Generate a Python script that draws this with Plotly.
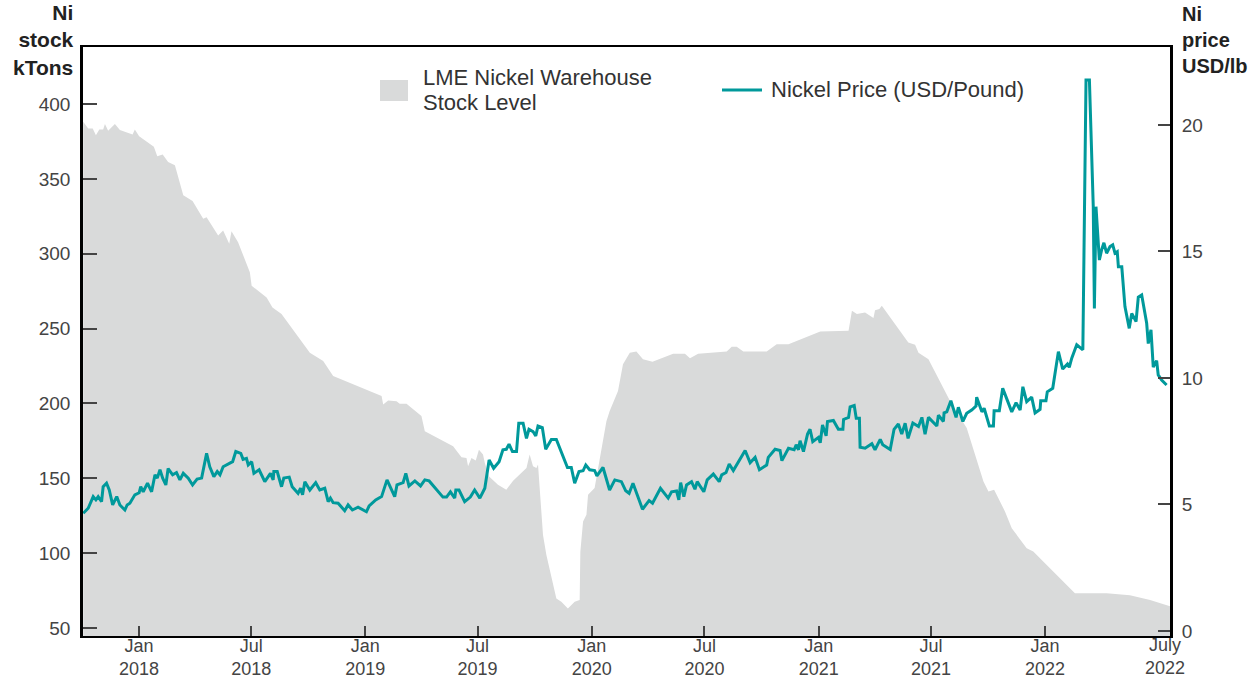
import datetime
import plotly.graph_objects as go

# ---------------- data (decimal-year time stamps) ----------------
price_t = [
    2017.754, 2017.776, 2017.798, 2017.810, 2017.820, 2017.835, 2017.842, 2017.857, 2017.869, 2017.884,
    2017.902, 2017.916, 2017.938, 2017.948, 2017.960, 2017.982, 2018.001, 2018.008, 2018.019, 2018.038,
    2018.056, 2018.071, 2018.081, 2018.093, 2018.105, 2018.119, 2018.129, 2018.149, 2018.166, 2018.181,
    2018.196, 2018.218, 2018.237, 2018.257, 2018.277, 2018.299, 2018.313, 2018.331, 2018.346, 2018.358,
    2018.372, 2018.394, 2018.414, 2018.428, 2018.450, 2018.460, 2018.475, 2018.483, 2018.498, 2018.508,
    2018.531, 2018.556, 2018.581, 2018.593, 2018.596, 2018.611, 2018.630, 2018.640, 2018.664, 2018.677,
    2018.703, 2018.714, 2018.723, 2018.733, 2018.755, 2018.781, 2018.799, 2018.821, 2018.836, 2018.846,
    2018.858, 2018.880, 2018.909, 2018.924, 2018.943, 2018.968, 2019.005, 2019.017, 2019.046, 2019.072,
    2019.096, 2019.130, 2019.140, 2019.167, 2019.179, 2019.193, 2019.219, 2019.244, 2019.263, 2019.282,
    2019.343, 2019.359, 2019.376, 2019.395, 2019.400, 2019.414, 2019.439, 2019.464, 2019.483, 2019.506,
    2019.528, 2019.547, 2019.567, 2019.591, 2019.608, 2019.623, 2019.635, 2019.650, 2019.668, 2019.678,
    2019.697, 2019.712, 2019.723, 2019.741, 2019.753, 2019.763, 2019.782, 2019.797, 2019.822, 2019.844,
    2019.893, 2019.910, 2019.925, 2019.944, 2019.962, 2019.974, 2019.991, 2020.013, 2020.023, 2020.050,
    2020.079, 2020.102, 2020.131, 2020.150, 2020.165, 2020.182, 2020.224, 2020.253, 2020.268, 2020.303,
    2020.337, 2020.352, 2020.374, 2020.384, 2020.392, 2020.406, 2020.418, 2020.440, 2020.455, 2020.465,
    2020.494, 2020.509, 2020.536, 2020.562, 2020.573, 2020.592, 2020.606, 2020.624, 2020.676, 2020.698,
    2020.720, 2020.739, 2020.771, 2020.778, 2020.808, 2020.830, 2020.838, 2020.867, 2020.892, 2020.901,
    2020.911, 2020.918, 2020.933, 2020.951, 2020.962, 2020.974, 2020.999, 2021.007, 2021.017, 2021.033,
    2021.039, 2021.065, 2021.087, 2021.107, 2021.110, 2021.132, 2021.139, 2021.157, 2021.166, 2021.180,
    2021.183, 2021.205, 2021.235, 2021.249, 2021.272, 2021.283, 2021.316, 2021.333, 2021.352, 2021.367,
    2021.382, 2021.395, 2021.416, 2021.441, 2021.456, 2021.470, 2021.485, 2021.522, 2021.529, 2021.551,
    2021.554, 2021.566, 2021.584, 2021.607, 2021.617, 2021.637, 2021.654, 2021.676, 2021.695, 2021.698,
    2021.721, 2021.731, 2021.754, 2021.772, 2021.775, 2021.798, 2021.813, 2021.828, 2021.853, 2021.872,
    2021.890, 2021.902, 2021.919, 2021.941, 2021.956, 2021.978, 2021.981, 2022.004, 2022.010, 2022.034,
    2022.044, 2022.059, 2022.078, 2022.099, 2022.107, 2022.118, 2022.140, 2022.167, 2022.181, 2022.196,
    2022.213, 2022.218, 2022.225, 2022.240, 2022.250, 2022.260, 2022.272, 2022.287, 2022.299, 2022.309,
    2022.319, 2022.324, 2022.339, 2022.353, 2022.372, 2022.383, 2022.402, 2022.412, 2022.427, 2022.449,
    2022.456, 2022.468, 2022.478, 2022.493, 2022.500, 2022.515, 2022.537,
]
price_usd_lb = [
    4.65, 4.85, 5.31, 5.18, 5.31, 5.11, 5.70, 5.84, 5.57, 4.98,
    5.31, 4.98, 4.78, 4.98, 5.05, 5.38, 5.46, 5.70, 5.50, 5.84,
    5.50, 6.17, 6.04, 6.37, 6.04, 5.77, 6.42, 6.17, 6.26, 5.97,
    6.23, 6.04, 5.77, 6.00, 6.04, 7.02, 6.49, 6.10, 6.30, 6.17,
    6.49, 6.58, 6.69, 7.09, 7.02, 6.78, 6.82, 6.56, 6.69, 6.23,
    6.37, 5.90, 6.23, 5.97, 6.30, 6.30, 5.70, 6.04, 6.08, 5.70,
    5.44, 5.64, 5.38, 5.90, 5.57, 5.86, 5.57, 5.64, 5.11, 5.25,
    5.07, 5.05, 4.75, 4.98, 4.78, 4.89, 4.71, 4.94, 5.18, 5.31,
    5.97, 5.31, 5.77, 5.86, 6.23, 5.73, 5.93, 5.73, 5.97, 5.93,
    5.29, 5.29, 5.50, 5.25, 5.57, 5.57, 5.11, 5.29, 5.57, 5.25,
    5.64, 6.76, 6.43, 6.69, 7.16, 7.18, 7.38, 7.09, 7.09, 8.21,
    8.21, 7.61, 7.97, 7.88, 7.71, 8.10, 8.04, 7.18, 7.57, 7.57,
    6.46, 6.46, 5.84, 6.30, 6.33, 6.56, 6.37, 6.34, 6.13, 6.46,
    5.57, 5.97, 5.90, 5.54, 5.44, 5.84, 4.81, 5.15, 5.05, 5.64,
    5.25, 5.50, 5.53, 5.18, 5.86, 5.31, 5.77, 5.90, 5.60, 5.90,
    5.50, 5.97, 6.20, 5.90, 6.17, 6.26, 6.60, 6.34, 7.13, 6.65,
    6.86, 6.37, 6.56, 6.86, 7.18, 7.13, 6.73, 7.22, 7.16, 7.36,
    7.16, 7.52, 7.09, 7.78, 7.97, 7.48, 7.65, 7.44, 8.14, 7.71,
    8.28, 8.32, 7.97, 7.97, 8.36, 8.44, 8.86, 8.91, 8.41, 8.41,
    7.26, 7.22, 7.40, 7.16, 7.57, 7.36, 7.17, 7.97, 8.18, 7.78,
    8.21, 7.61, 8.22, 8.08, 8.44, 7.78, 8.44, 8.10, 8.53, 8.28,
    8.62, 8.66, 9.10, 8.44, 8.84, 8.28, 8.60, 8.73, 8.89, 9.24,
    8.66, 8.80, 8.10, 8.10, 8.70, 8.70, 9.59, 9.24, 8.66, 9.02,
    8.73, 9.65, 9.06, 9.24, 8.62, 8.76, 9.10, 9.10, 9.45, 9.59,
    10.21, 11.04, 10.35, 10.55, 10.42, 10.78, 11.31, 11.11, 21.78, 21.78,
    16.77, 12.75, 16.77, 14.66, 15.06, 15.34, 14.93, 15.19, 15.26, 14.93,
    14.99, 14.39, 14.39, 12.82, 11.96, 12.55, 12.23, 13.19, 13.28, 12.16,
    11.36, 11.90, 10.43, 10.68, 10.12, 9.92, 9.72,
]

stock_t = [
    2017.754, 2017.776, 2017.796, 2017.810, 2017.825, 2017.842, 2017.850, 2017.864, 2017.894, 2017.916,
    2017.972, 2017.982, 2018.001, 2018.066, 2018.081, 2018.105, 2018.129, 2018.159, 2018.196, 2018.211,
    2018.237, 2018.284, 2018.299, 2018.350, 2018.372, 2018.399, 2018.409, 2018.438, 2018.490, 2018.498,
    2018.564, 2018.590, 2018.630, 2018.755, 2018.814, 2018.858, 2019.057, 2019.072, 2019.079, 2019.101,
    2019.138, 2019.152, 2019.182, 2019.248, 2019.263, 2019.388, 2019.425, 2019.447, 2019.454, 2019.469,
    2019.488, 2019.502, 2019.520, 2019.528, 2019.547, 2019.586, 2019.623, 2019.653, 2019.712, 2019.726,
    2019.741, 2019.756, 2019.763, 2019.770, 2019.785, 2019.800, 2019.822, 2019.844, 2019.866, 2019.895,
    2019.925, 2019.947, 2019.950, 2019.962, 2019.977, 2019.984, 2020.013, 2020.065, 2020.079, 2020.116,
    2020.138, 2020.168, 2020.197, 2020.226, 2020.268, 2020.359, 2020.411, 2020.433, 2020.469, 2020.595,
    2020.617, 2020.639, 2020.668, 2020.771, 2020.815, 2020.867, 2021.007, 2021.132, 2021.147, 2021.169,
    2021.205, 2021.242, 2021.249, 2021.268, 2021.279, 2021.396, 2021.426, 2021.441, 2021.485, 2021.581,
    2021.654, 2021.728, 2021.750, 2021.775, 2021.823, 2021.853, 2021.919, 2021.948, 2022.132, 2022.272,
    2022.375, 2022.464, 2022.552,
]
stock_kt = [
    388.1, 383.7, 383.7, 379.2, 383.0, 383.0, 386.6, 382.1, 386.6, 382.6,
    379.7, 383.0, 378.5, 371.4, 365.1, 366.3, 361.3, 359.1, 339.0, 337.4,
    335.2, 323.4, 324.4, 312.2, 315.5, 306.6, 315.0, 307.7, 287.6, 278.6,
    270.8, 264.1, 259.7, 233.9, 228.3, 218.3, 206.0, 204.9, 199.3, 202.0,
    201.5, 199.7, 199.7, 191.5, 181.4, 171.4, 164.0, 163.5, 158.0, 163.5,
    161.8, 169.1, 165.8, 160.2, 151.2, 145.7, 142.3, 148.4, 156.8, 165.8,
    158.0, 156.8, 159.1, 145.7, 112.1, 98.7, 83.0, 69.6, 67.4, 62.9,
    67.4, 68.6, 100.9, 121.1, 125.6, 139.0, 143.4, 188.1, 194.8, 208.2,
    226.1, 233.9, 234.6, 229.5, 227.9, 233.2, 233.2, 230.2, 233.2, 234.6,
    237.9, 237.9, 234.6, 234.6, 239.5, 239.5, 248.0, 248.5, 261.9, 259.7,
    260.7, 257.0, 262.3, 263.0, 265.2, 240.6, 239.1, 233.9, 229.5, 201.5,
    183.6, 147.9, 141.2, 142.3, 127.8, 116.6, 103.2, 101.0, 73.1, 73.1,
    71.9, 68.6, 64.5,
]

x_tick_t = [2018.0, 2018.496, 2019.0, 2019.496, 2020.0, 2020.497, 2021.0, 2021.496, 2022.0]
x_tick_text = ["Jan<br>2018", "Jul<br>2018", "Jan<br>2019", "Jul<br>2019", "Jan<br>2020",
               "Jul<br>2020", "Jan<br>2021", "Jul<br>2021", "Jan<br>2022"]
end_label_t = 2022.530
end_label_text = "July<br>2022"
stock_ticks = [50, 100, 150, 200, 250, 300, 350, 400]
price_ticks = [0, 5, 10, 15, 20]


def to_date(t):
    y = int(t // 1)
    start = datetime.datetime(y, 1, 1)
    end = datetime.datetime(y + 1, 1, 1)
    return start + (end - start) * (t - y)


FONT = "Liberation Sans, Arial, sans-serif"
TEAL = "#00999b"
GREY_FILL = "#d9dada"
TXT = "#444444"

fig = go.Figure()
fig.add_trace(go.Scatter(
    x=[to_date(t) for t in stock_t], y=stock_kt,
    mode="lines", fill="tozeroy", fillcolor=GREY_FILL,
    line=dict(width=0, color=GREY_FILL), showlegend=False, yaxis="y",
))
fig.add_trace(go.Scatter(
    x=[to_date(t) for t in price_t], y=price_usd_lb,
    mode="lines", line=dict(width=3, color=TEAL), showlegend=False, yaxis="y2",
))

L, R, T, B = 83, 87, 47, 43
W, H = 1257, 679
pw, ph = W - L - R, H - T - B


def px(xp):
    return (xp - L) / pw


def py(yp):
    return (H - B - yp) / ph


fig.update_layout(
    width=W, height=H, autosize=False,
    margin=dict(l=L, r=R, t=T, b=B, pad=0, autoexpand=False),
    paper_bgcolor="white", plot_bgcolor="white",
    font=dict(family=FONT, color=TXT),
    xaxis=dict(
        type="date", automargin=False,
        range=[to_date(2017.753), to_date(2022.552)],
        tickvals=[to_date(t) for t in x_tick_t], ticktext=x_tick_text,
        ticks="inside", ticklen=10, tickwidth=1.5, tickcolor="#444",
        tickfont=dict(size=18, color=TXT, family=FONT), ticklabelstandoff=-8,
        showline=True, linecolor="black", linewidth=2, mirror=True,
        showgrid=False, zeroline=False,
    ),
    yaxis=dict(
        automargin=False,
        range=[44.6, 438.1], tickvals=stock_ticks,
        ticks="inside", ticklen=14, tickwidth=1.5, tickcolor="#444",
        tickfont=dict(size=19, color=TXT, family=FONT), ticklabelstandoff=6,
        showline=True, linecolor="black", linewidth=2.5, mirror=True,
        showgrid=False, zeroline=False,
    ),
    yaxis2=dict(
        automargin=False,
        range=[-0.2, 23.08], tickvals=price_ticks, overlaying="y", side="right",
        ticks="inside", ticklen=12, tickwidth=1.5, tickcolor="#444",
        tickfont=dict(size=19, color=TXT, family=FONT), ticklabelstandoff=6,
        showline=True, linecolor="black", linewidth=2,
        showgrid=False, zeroline=False,
    ),
)

# last x label sits at the end of the data, without a tick mark
fig.add_annotation(x=to_date(end_label_t), y=py(656), xref="x", yref="paper",
                   xanchor="center", yanchor="middle", text=end_label_text, showarrow=False,
                   align="center", font=dict(size=18, color=TXT, family=FONT))

# axis titles
fig.add_annotation(x=px(76), y=py(40), xref="paper", yref="paper", xanchor="right", yanchor="middle",
                   text="<b>Ni<br>stock<br>kTons</b>", showarrow=False, align="right",
                   font=dict(size=21, color="#222", family=FONT))
fig.add_annotation(x=px(1180), y=py(40), xref="paper", yref="paper", xanchor="left", yanchor="middle",
                   text="<b>Ni<br>price<br>USD/lb</b>", showarrow=False, align="left",
                   font=dict(size=20, color="#222", family=FONT))

# legend (drawn manually to match the reference's symbol sizes)
fig.add_shape(type="rect", xref="paper", yref="paper", x0=px(380), x1=px(408), y0=py(101), y1=py(80),
              fillcolor=GREY_FILL, line=dict(width=0))
fig.add_annotation(x=px(421), y=py(77), xref="paper", yref="paper", xanchor="left", yanchor="middle",
                   text="LME Nickel Warehouse", showarrow=False, align="left",
                   font=dict(size=22, color="#333", family=FONT))
fig.add_annotation(x=px(421), y=py(102), xref="paper", yref="paper", xanchor="left", yanchor="middle",
                   text="Stock Level", showarrow=False, align="left",
                   font=dict(size=22, color="#333", family=FONT))
fig.add_shape(type="line", xref="paper", yref="paper", x0=px(722), x1=px(762), y0=py(90), y1=py(90),
              line=dict(width=3, color=TEAL))
fig.add_annotation(x=px(769), y=py(89), xref="paper", yref="paper", xanchor="left", yanchor="middle",
                   text="Nickel Price (USD/Pound)", showarrow=False, align="left",
                   font=dict(size=22, color="#333", family=FONT))

fig.write_html("out.html", config={"displayModeBar": False},
               post_script="document.body.style.margin='0';document.body.style.overflow='hidden';")
